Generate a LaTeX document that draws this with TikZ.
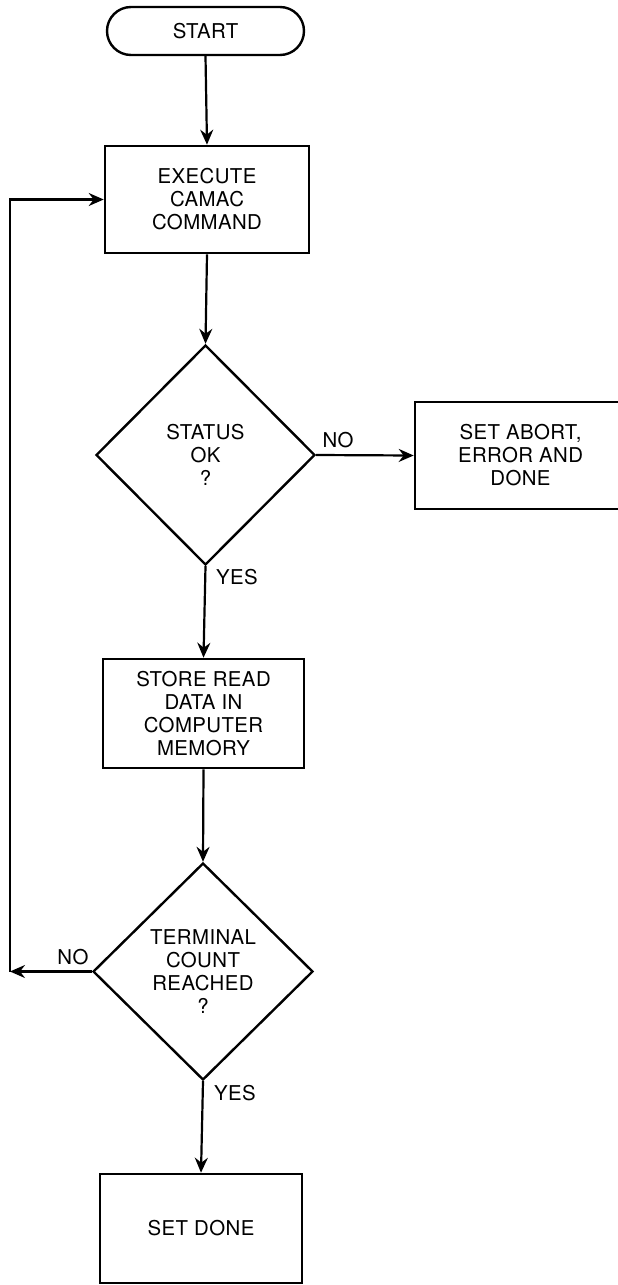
\documentclass[tikz,border=0pt]{standalone}
\usepackage{fontspec}
\setmainfont{TeX Gyre Heros}[LetterSpace=2]
\usetikzlibrary{shapes.geometric,shapes.misc,arrows.meta}
\begin{document}
\begin{tikzpicture}[x=0.5pt,y=-0.5pt,
  every node/.style={font=\fontsize{10.2}{11.5}\selectfont, align=center},
  box/.style={draw, line width=1.3pt, rectangle, inner sep=0pt},
  decision/.style={draw, line width=1.2pt, diamond, inner sep=0pt},
  terminal/.style={draw, line width=1.2pt, rounded rectangle, inner sep=0pt},
  flow/.style={line width=1.1pt, -{Stealth[length=7.5pt,width=6.5pt,inset=2.5pt]}},
  lbl/.style={inner sep=0pt}]
\useasboundingbox (0,0) rectangle (617,1285);

% process steps
\node[terminal, minimum width=98.5pt, minimum height=24pt] (start) at (205.5,31) {START};
\node[box, minimum width=102pt, minimum height=53.5pt] (exec) at (207,199.5) {EXECUTE\\CAMAC\\COMMAND};
\node[decision, minimum width=109.5pt, minimum height=110pt] (status) at (205.5,455) {STATUS\\OK\\?};
\node[box, minimum width=105.5pt, minimum height=53.5pt] (abort) at (520.5,455.5) {SET ABORT,\\ERROR AND\\DONE};
\node[box, minimum width=100.5pt, minimum height=54.5pt] (store) at (203.5,713.5) {STORE READ\\DATA IN\\COMPUTER\\MEMORY};
\node[decision, minimum width=110pt, minimum height=108.5pt] (term) at (203,971.5) {TERMINAL\\COUNT\\REACHED\\?};
\node[box, minimum width=101pt, minimum height=54.5pt] (done) at (201,1228.5) {SET DONE};

% branch labels
\node[lbl] (noA) at (338,440) {NO};
\node[lbl] (yesA) at (237,577) {YES};
\node[lbl] (noB) at (73,957) {NO};
\node[lbl] (yesB) at (235,1093) {YES};

% loop corners
\coordinate (loopbl) at (10,971.5);
\coordinate (looptl) at (10,199.5);

% connectors
\draw[flow] (start.south) -- (exec.north);
\draw[flow] (exec.south) -- (status.north);
\draw[flow] (status.east) -- (abort.west);
\draw[flow] (status.south) -- (store.north);
\draw[flow] (store.south) -- (term.north);
\draw[flow] (term.south) -- (done.north);
\draw[flow] (term.west) -- (loopbl);
\draw[flow] (loopbl) -- (looptl) -- (exec.west);
\end{tikzpicture}
\end{document}
